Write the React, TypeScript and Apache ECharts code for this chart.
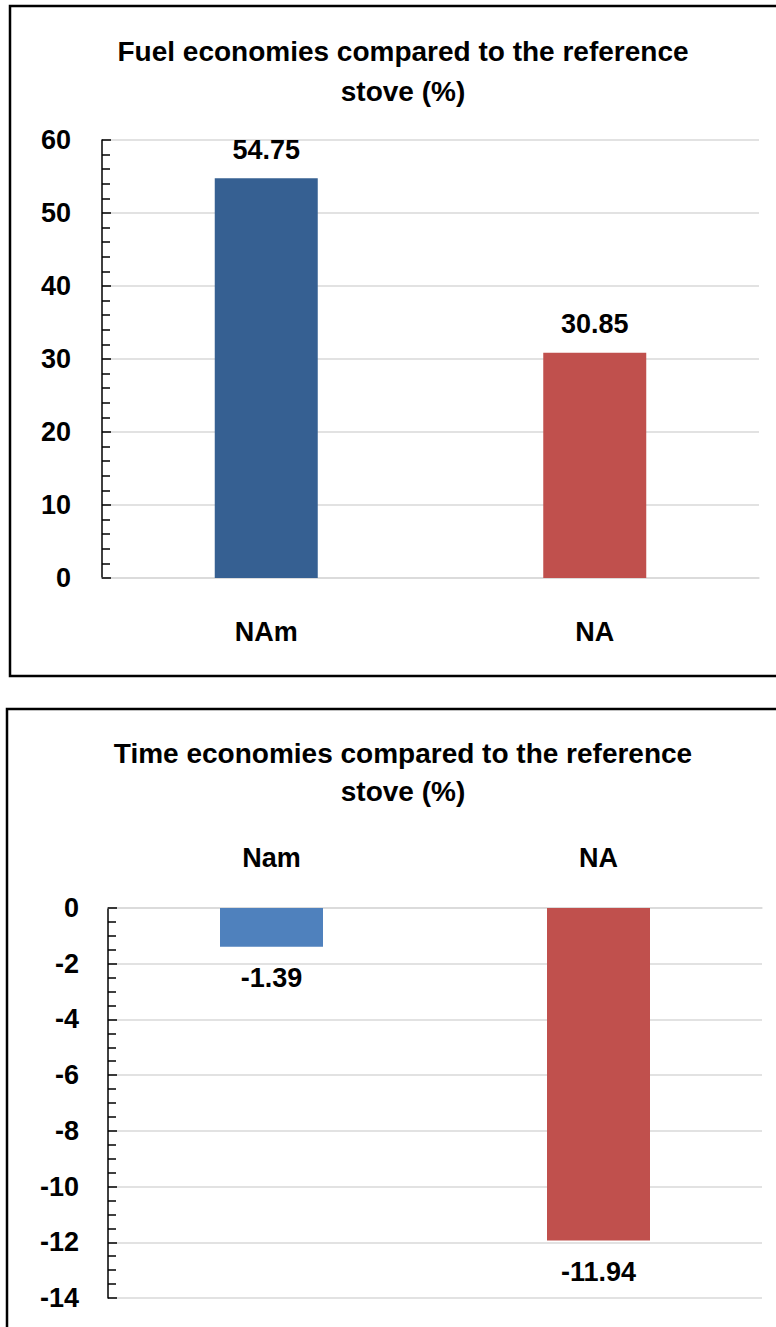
import React, { useEffect, useRef } from "react";
import * as echarts from "echarts";

// Fuel economy chart
const fuelCategories = ["NAm", "NA"];
const fuelValues = [54.75, 30.85];
const fuelColors = ["#366092", "#C0504D"];

// Time economy chart
const timeCategories = ["Nam", "NA"];
const timeValues = [-1.39, -11.94];
const timeColors = ["#4F81BD", "#C0504D"];

const FONT = "'Liberation Sans', Arial, sans-serif";
const TEXT = { fontFamily: FONT, fontWeight: "bold" as const, fontSize: 27, color: "#000" };
const GRID_COLOR = "#D9D9D9";

export default function App() {
  const ref = useRef<HTMLDivElement>(null);

  useEffect(() => {
    if (!ref.current) return;
    const chart = echarts.init(ref.current, undefined, { renderer: "svg" });

    const yAxisCommon = {
      type: "value" as const,
      axisLine: { show: true, lineStyle: { color: "#000", width: 1.5 } },
      axisTick: { show: true, inside: true, length: 9, lineStyle: { color: "#000", width: 1.5 } },
      minorTick: { show: true, length: 8, lineStyle: { color: "#000", width: 1.5 } },
      splitLine: { show: true, lineStyle: { color: GRID_COLOR, width: 1.5 } },
      axisLabel: { ...TEXT },
    };

    chart.setOption({
      animation: false,
      backgroundColor: "#fff",
      title: [
        {
          text: "Fuel economies compared to the reference\nstove (%)",
          left: 398,
          top: 26,
          textAlign: "center",
          textStyle: { ...TEXT, fontSize: 28, lineHeight: 40 },
        },
        {
          text: "Time economies compared to the reference\nstove (%)",
          left: 398,
          top: 729,
          textAlign: "center",
          textStyle: { ...TEXT, fontSize: 28, lineHeight: 38 },
        },
      ],
      grid: [
        { left: 102, top: 140, width: 657, height: 438 },
        { left: 108, top: 908, width: 654, height: 390 },
      ],
      xAxis: [
        {
          gridIndex: 0,
          type: "category",
          data: fuelCategories,
          axisLine: { lineStyle: { color: GRID_COLOR, width: 1.5 } },
          axisTick: { show: false },
          axisLabel: { ...TEXT, margin: 40 },
        },
        {
          gridIndex: 1,
          type: "category",
          position: "top",
          data: timeCategories,
          axisLine: { lineStyle: { color: GRID_COLOR, width: 1.5 } },
          axisTick: { show: false },
          axisLabel: { ...TEXT, margin: 37 },
        },
      ],
      yAxis: [
        {
          ...yAxisCommon,
          gridIndex: 0,
          min: 0,
          max: 60,
          interval: 10,
          minorTick: { ...yAxisCommon.minorTick, splitNumber: 5 },
          axisLabel: { ...TEXT, margin: 31 },
        },
        {
          ...yAxisCommon,
          gridIndex: 1,
          min: -14,
          max: 0,
          interval: 2,
          minorTick: { ...yAxisCommon.minorTick, splitNumber: 4 },
          axisLabel: { ...TEXT, margin: 29 },
        },
      ],
      series: [
        {
          type: "bar",
          xAxisIndex: 0,
          yAxisIndex: 0,
          barWidth: 103,
          data: fuelValues.map((v, i) => ({ value: v, itemStyle: { color: fuelColors[i] } })),
          label: {
            show: true,
            position: "top",
            distance: 15,
            ...TEXT,
            formatter: (p: any) => p.value.toFixed(2),
          },
        },
        {
          type: "bar",
          xAxisIndex: 1,
          yAxisIndex: 1,
          barWidth: 103,
          data: timeValues.map((v, i) => ({ value: v, itemStyle: { color: timeColors[i] } })),
          label: {
            show: true,
            position: "bottom",
            distance: 18,
            ...TEXT,
            formatter: (p: any) => p.value.toFixed(2),
          },
        },
      ],
      graphic: [
        {
          type: "rect",
          shape: { x: 10, y: 6, width: 800, height: 670 },
          style: { fill: "none", stroke: "#000", lineWidth: 2.5 },
          silent: true,
        },
        {
          type: "rect",
          shape: { x: 7, y: 709, width: 800, height: 700 },
          style: { fill: "none", stroke: "#000", lineWidth: 2.5 },
          silent: true,
        },
      ],
    });

    return () => chart.dispose();
  }, []);

  return (
    <div
      ref={ref}
      style={{ position: "absolute", left: 0, top: 0, width: 776, height: 1327, background: "#fff" }}
    />
  );
}
